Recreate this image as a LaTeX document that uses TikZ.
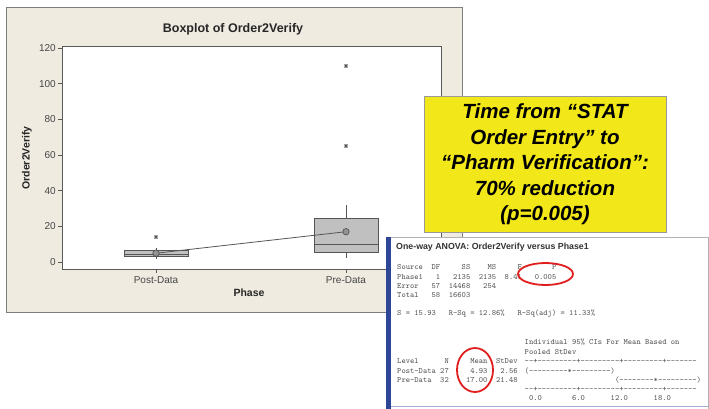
\documentclass[tikz,border=0pt]{standalone}
\usepackage{fontspec}
\setmainfont{Liberation Sans}
\ExplSyntaxOn
\cs_new:Npn \repchar #1#2 { \prg_replicate:nn {#1} {#2} }
\ExplSyntaxOff
% a run of n hyphens that never merge into dashes
\newcommand\hy[1]{\repchar{#1}{-{}}}
\definecolor{panelbg}{RGB}{239,235,225}
\definecolor{panelline}{RGB}{125,125,125}
\definecolor{axisgray}{RGB}{90,90,90}
\definecolor{labgray}{RGB}{70,70,70}
\definecolor{boxfill}{RGB}{192,192,192}
\definecolor{boxline}{RGB}{85,85,85}
\definecolor{callyellow}{RGB}{242,231,24}
\definecolor{monogray}{RGB}{85,85,85}
\definecolor{anovablue}{RGB}{45,70,150}
\definecolor{circred}{RGB}{225,30,30}
\tikzset{
  ticklab/.style={font=\fontsize{10}{12}\selectfont, text=labgray, inner sep=0pt},
  axtitle/.style={font=\fontsize{10.5}{12}\selectfont\bfseries, text=black!85, inner sep=0pt},
  mono/.style={font=\fontsize{8.1}{9}\selectfont\ttfamily, text=monogray, anchor=base west, inner sep=0pt},
  qbox/.style={fill=boxfill, draw=boxline, line width=0.7pt},
  whisk/.style={draw=boxline, line width=0.8pt},
  meanpt/.style={fill=gray!85, draw=boxline, line width=0.7pt},
  outlier/.pic={\draw[line width=0.8pt, boxline] (-2.2,0)--(2.2,0) (-1.3,-1.9)--(1.3,1.9) (-1.3,1.9)--(1.3,-1.9);},
  redring/.style={draw=circred, line width=1.8pt},
}
\begin{document}
\frenchspacing
\begin{tikzpicture}[x=1pt,y=-1pt]
\useasboundingbox (0,0) rectangle (709,408);
\fill[white] (0,0) rectangle (709,408);

% ---------- boxplot panel ----------
\draw[fill=panelbg, draw=panelline, line width=0.9pt] (6,7) rectangle (462,312);
\draw[fill=white, draw=axisgray, line width=0.8pt] (62,46) rectangle (441,269);
\node[font=\fontsize{12.5}{14}\selectfont\bfseries, text=black!85, inner sep=0pt] (ptitle) at (233,29) {Boxplot of Order2Verify};

% y axis ticks and labels (0..120, 1 unit = 1.7833 px)
\foreach \v/\nm in {0/ya,20/yb,40/yc,60/yd,80/ye,100/yf,120/yg}{
  \draw[axisgray, line width=0.7pt] (58,{262-\v*1.7833}) -- (62,{262-\v*1.7833});
  \node[ticklab, anchor=east] (\nm) at (56,{262-\v*1.7833}) {\v};
}
\node[axtitle, rotate=90] (ylab) at (27,158) {Order2Verify};

% x axis ticks and labels
\draw[axisgray, line width=0.7pt] (156,269) -- (156,273) (346,269) -- (346,273);
\node[ticklab] (xpost) at (156,280) {Post-Data};
\node[ticklab] (xpre) at (346,280) {Pre-Data};
\node[axtitle] (xlab) at (249,293) {Phase};

% Post-Data group
\draw[whisk] (156,248) -- (156,259);
\draw[qbox] (124,250.8) rectangle (188,256.6);
\draw[boxline, line width=0.7pt] (124,254.6) -- (188,254.6);
\pic at (156,237) {outlier};

% Pre-Data group
\draw[whisk] (346,205) -- (346,218) (346,252) -- (346,258);
\draw[qbox] (314,218) rectangle (378,252);
\draw[boxline, line width=0.8pt] (314,244.5) -- (378,244.5);
\pic at (346,146) {outlier};
\pic at (346,66) {outlier};

% connected means
\coordinate (mpost) at (156,253.2);
\coordinate (mpre) at (346,231.7);
\draw[boxline, line width=0.8pt] (mpost) -- (mpre);
\filldraw[meanpt] (mpost) circle[radius=3.2pt];
\filldraw[meanpt] (mpre) circle[radius=3.2pt];

% ---------- call-out ----------
\node[draw=gray!80, fill=callyellow, line width=0.8pt, minimum width=242pt, minimum height=136pt, inner sep=0pt] (callout) at (545,164) {};
\node[font=\fontsize{20.5}{25.5}\selectfont\bfseries\itshape, align=center, inner sep=0pt] (calltext) at (545,164.5)
  {Time from “STAT\\Order Entry” to\\“Pharm Verification”:\\70\% reduction\\(p=0.005)};

% ---------- ANOVA output ----------
\node[draw=gray!60, fill=white, line width=0.8pt, minimum width=320pt, minimum height=172pt, inner sep=0pt, anchor=north west] (anova) at (388,237) {};
\fill[anovablue] (386,237) rectangle (390.5,409);
\draw[anovablue!45, line width=0.8pt] (390.5,406.5) -- (708,406.5);
\node[font=\fontsize{8.8}{10}\selectfont\bfseries, text=black!80, anchor=west, inner sep=0pt] (atitle) at (396,247) {One-way ANOVA: Order2Verify versus Phase1};

\node[mono] (r1) at (397,269.5) {Source~~DF~~~~~SS~~~~MS~~~~~F~~~~~~~P};
\node[mono] (r2) at (397,279.5) {Phase1~~~1~~~2135~~2135~~8.41~~~0.005};
\node[mono] (r3) at (397,288.5) {Error~~~57~~14468~~~254};
\node[mono] (r4) at (397,297.5) {Total~~~58~~16603};
\node[mono] (r5) at (397,315.5) {S~=~15.93~~~R-Sq~=~12.86\%~~~R-Sq(adj)~=~11.33\%};

\node[mono] (c1) at (524.5,344.5) {Individual~95\%~CIs~For~Mean~Based~on};
\node[mono] (c2) at (524.5,354) {Pooled~StDev};
\node[mono] (lh) at (397,363.5) {Level~~~~~~N~~~~~Mean~~StDev};
\node[mono] (lp) at (397,373) {Post-Data~27~~~~~4.93~~~2.56};
\node[mono] (lq) at (397,382.5) {Pre-Data~~32~~~~17.00~~21.48};
\node[mono] (sc1) at (524.5,363.5) {\hy{2}+\hy{9}+\hy{9}+\hy{9}+\hy{7}};
\node[mono] (cp) at (524.5,373) {(\hy{9}*\hy{9})};
\node[mono] (cq) at (524.5,382.5) {~~~~~~~~~~~~~~~~~~~~~(\hy{8}*\hy{9})};
\node[mono] (sc2) at (524.5,391.5) {\hy{2}+\hy{9}+\hy{9}+\hy{9}+\hy{7}};
\node[mono] (sc3) at (524.5,400.5) {~0.0~~~~~~~6.0~~~~~~12.0~~~~~~18.0};

% highlight rings
\draw[redring] (545.5,274) ellipse[x radius=27.5pt, y radius=11pt];
\draw[redring] (475,370) ellipse[x radius=18pt, y radius=22pt];
\end{tikzpicture}
\end{document}
